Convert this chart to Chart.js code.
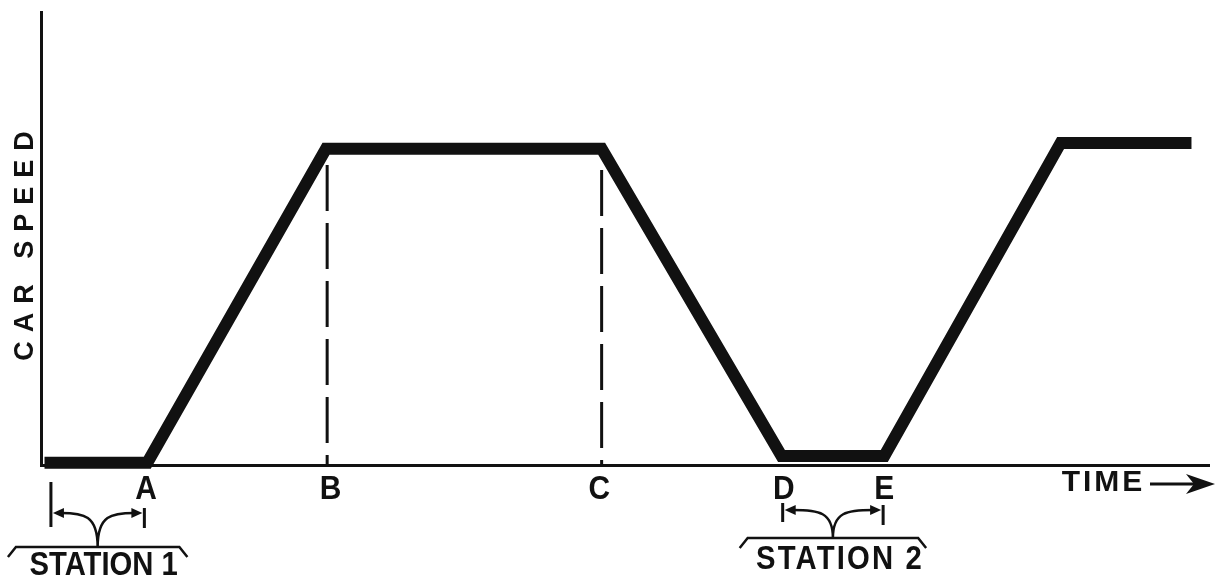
<!DOCTYPE html>
<html>
<head>
<meta charset="utf-8">
<script src="https://cdn.jsdelivr.net/npm/chart.js@4"></script>
<style>
  html, body { margin: 0; padding: 0; background: #fff; }
  #wrap { width: 1220px; height: 583px; position: relative; }
</style>
</head>
<body>
<div id="wrap"><canvas id="chart-speed"></canvas></div>
<script>
// ===== dati =====
const timePoints = [0.3, 9.1, 24.4, 48.0, 63.4, 72.2, 87.3, 98.5];
const carSpeed   = [0.5, 0.5, 69.8, 69.8, 2.0, 2.0, 71.1, 71.1];

const markLabels = ['A', 'B', 'C', 'D', 'E'];
const markTimes  = [9.0, 24.8, 47.8, 63.6, 72.2];

// linee tratteggiate verticali in B e C
const dashTimes  = [24.5, 48.0];
const dashTops   = [66.2, 65.1];

// stazioni: inizio / fine sosta
const stationNames = ['STATION 1', 'STATION 2'];
const stationFrom  = [0.85, 63.5];
const stationTo    = [8.85, 72.1];

const INK = '#111';
const FONT = '"Liberation Sans", Arial, sans-serif';

const ctx = document.getElementById('chart-speed').getContext('2d');

function arrowHead(c, x, y, dir) {
    // dir = -1 punta a sinistra, 1 a destra
    c.beginPath();
    c.moveTo(x, y);
    c.lineTo(x - dir * 11, y - 5);
    c.lineTo(x - dir * 11, y + 5);
    c.closePath();
    c.fill();
}

// testo "stretto" come le lettere da disegno tecnico
function narrowText(c, text, x, y, size, sx, spacing) {
    c.save();
    c.translate(x, y);
    c.scale(sx, 1);
    c.font = 'bold ' + size + 'px ' + FONT;
    c.textAlign = 'center';
    c.textBaseline = 'middle';
    c.letterSpacing = spacing + 'px';
    c.fillText(text, spacing / 2, 0);
    c.restore();
}

const annotations = {
    id: 'annotations',
    afterDraw(chart) {
        const c = chart.ctx;
        const xs = chart.scales.x;
        const yBase = chart.chartArea.bottom;
        c.save();
        c.fillStyle = INK;
        c.strokeStyle = INK;

        // lettere sotto l'asse
        markLabels.forEach((l, i) => {
            narrowText(c, l, xs.getPixelForValue(markTimes[i]), yBase + 25, 34, 0.88, 0);
        });

        // TIME ->
        narrowText(c, 'TIME', 1102, yBase + 18, 30, 1, 3);
        c.lineWidth = 3;
        c.beginPath();
        c.moveTo(1150, yBase + 19);
        c.lineTo(1204, yBase + 19);
        c.stroke();
        c.beginPath();
        c.moveTo(1215, yBase + 19);
        c.lineTo(1186, yBase + 9);
        c.lineTo(1194, yBase + 19);
        c.lineTo(1186, yBase + 29);
        c.closePath();
        c.fill();

        // CAR SPEED (asse y)
        c.save();
        c.translate(26, 246);
        c.rotate(-Math.PI / 2);
        narrowText(c, 'CAR SPEED', 0, 0, 27, 1, 9);
        c.restore();

        // stazioni
        const cfg = [
            { tickL: [482, 527], tickR: [508, 528], ay: 513, by: 547, ty: 566, sp: 0 },
            { tickL: [503, 522], tickR: [505, 525], ay: 510, by: 538, ty: 560, sp: 2.5 }
        ];
        stationNames.forEach((name, i) => {
            const k = cfg[i];
            const xl = xs.getPixelForValue(stationFrom[i]);
            const xr = xs.getPixelForValue(stationTo[i]);
            const jx = (xl + xr) / 2;
            c.lineWidth = 3;
            c.beginPath();
            c.moveTo(xl, k.tickL[0]); c.lineTo(xl, k.tickL[1]);
            c.moveTo(xr, k.tickR[0]); c.lineTo(xr, k.tickR[1]);
            c.stroke();
            // frecce curve
            c.lineWidth = 2.5;
            c.beginPath();
            c.moveTo(jx, k.by);
            c.bezierCurveTo(jx, k.ay + 2, jx - 14, k.ay, xl + 10, k.ay);
            c.moveTo(jx, k.by);
            c.bezierCurveTo(jx, k.ay + 2, jx + 14, k.ay, xr - 10, k.ay);
            c.stroke();
            arrowHead(c, xl + 2, k.ay, -1);
            arrowHead(c, xr - 2, k.ay, 1);
            // parentesi
            const bl = jx - (xr - xl) / 2 - 35;
            const br = jx + (xr - xl) / 2 + 35;
            c.lineWidth = 2.5;
            c.beginPath();
            c.moveTo(bl - 8, k.by + 10);
            c.lineTo(bl, k.by);
            c.lineTo(br, k.by);
            c.lineTo(br + 8, k.by + 10);
            c.stroke();
            narrowText(c, name, jx + 6, k.ty, 34, 0.86, k.sp);
        });
        c.restore();
    }
};

new Chart(ctx, {
    type: 'line',
    data: {
        datasets: [
            {
                label: 'Car speed',
                data: timePoints.map((t, i) => ({ x: t, y: carSpeed[i] })),
                borderColor: INK,
                borderWidth: 12,
                borderJoinStyle: 'miter',
                borderCapStyle: 'butt',
                pointRadius: 0,
                tension: 0,
                clip: false
            },
            ...dashTimes.map((t, i) => ({
                label: 'mark' + i,
                data: [{ x: t, y: dashTops[i] }, { x: t, y: 0 }],
                borderColor: INK,
                borderWidth: 3,
                borderDash: [46, 12],
                pointRadius: 0,
                clip: false
            }))
        ]
    },
    options: {
        responsive: true,
        maintainAspectRatio: false,
        animation: false,
        layout: { padding: { left: 41, top: 12, right: 11, bottom: 118 } },
        plugins: { legend: { display: false }, tooltip: { enabled: false } },
        scales: {
            x: {
                type: 'linear', min: 0, max: 100,
                grid: { display: false, drawTicks: false },
                ticks: { display: false },
                border: { display: true, color: INK, width: 3 }
            },
            y: {
                min: 0, max: 100,
                grid: { display: false, drawTicks: false },
                ticks: { display: false },
                border: { display: true, color: INK, width: 3 }
            }
        }
    },
    plugins: [annotations]
});
</script>
</body>
</html>
